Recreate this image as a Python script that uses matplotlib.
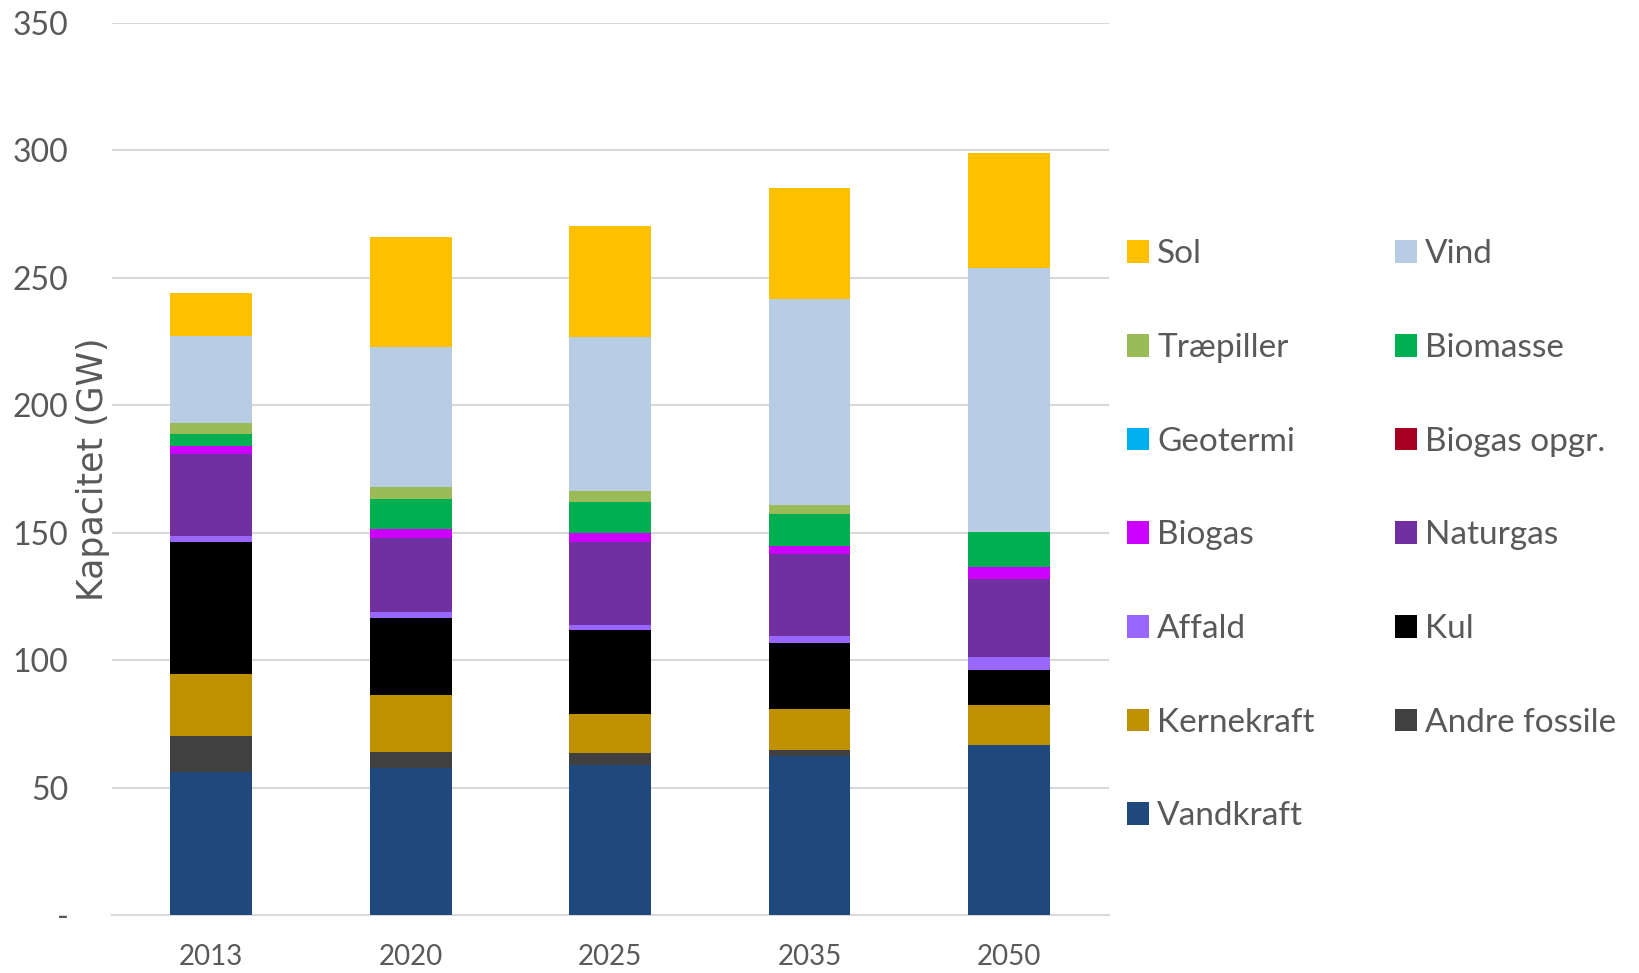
import matplotlib
matplotlib.use("Agg")
import matplotlib.pyplot as plt
from matplotlib.patches import Patch
from matplotlib.ticker import FuncFormatter
import numpy as np

# Data (GW), stacked bottom to top
years = ["2013", "2020", "2025", "2035", "2050"]
vandkraft = [56.1, 57.6, 58.9, 62.5, 66.9]
andre_fossile = [14.1, 6.3, 4.6, 2.4, 0.0]
kernekraft = [24.4, 22.3, 15.2, 15.8, 15.4]
kul = [51.7, 30.3, 33.3, 26.0, 13.9]
affald = [2.3, 2.5, 1.8, 2.8, 5.2]
naturgas = [32.2, 29.0, 32.7, 32.3, 30.3]
biogas = [3.3, 3.4, 3.2, 3.0, 4.9]
biogas_opgr = [0.0, 0.0, 0.0, 0.0, 0.0]
geotermi = [0.0, 0.0, 0.0, 0.0, 0.0]
biomasse = [4.8, 11.9, 12.3, 12.7, 13.6]
traepiller = [4.1, 4.7, 4.3, 3.3, 0.0]
vind = [34.2, 54.8, 60.5, 80.7, 103.6]
sol = [16.7, 43.3, 43.5, 43.9, 45.3]

series = [
    ("Vandkraft", vandkraft, "#1F497D"),
    ("Andre fossile", andre_fossile, "#404040"),
    ("Kernekraft", kernekraft, "#BF9000"),
    ("Kul", kul, "#000000"),
    ("Affald", affald, "#9966FF"),
    ("Naturgas", naturgas, "#7030A0"),
    ("Biogas", biogas, "#CC00FF"),
    ("Biogas opgr.", biogas_opgr, "#A50021"),
    ("Geotermi", geotermi, "#00B0F0"),
    ("Biomasse", biomasse, "#00B050"),
    ("Træpiller", traepiller, "#9BBB59"),
    ("Vind", vind, "#B8CCE4"),
    ("Sol", sol, "#FFC000"),
]

text_color = "#595959"
grid_color = "#D9D9D9"

fig = plt.figure(figsize=(16.4, 9.73), dpi=100)
ax = fig.add_axes([0.068, 0.0596, 0.608, 0.9168])

x = np.arange(len(years))
bottom = np.zeros(len(years))
for name, vals, color in series:
    vals = np.array(vals)
    ax.bar(x, vals, width=0.41, bottom=bottom, color=color, label=name, zorder=3)
    bottom += vals

ax.set_xlim(-0.5, len(years) - 0.5)
ax.set_ylim(0, 350)
ax.set_yticks(np.arange(0, 351, 50))
ax.yaxis.set_major_formatter(FuncFormatter(lambda v, p: "-" if v == 0 else f"{int(v)}"))
ax.set_xticks(x)
ax.set_xticklabels(years)

ax.grid(axis="y", color=grid_color, linewidth=1.5, zorder=0)
for side in ["top", "right", "left"]:
    ax.spines[side].set_visible(False)
ax.spines["bottom"].set_color(grid_color)
ax.spines["bottom"].set_linewidth(1.5)

ax.tick_params(axis="y", length=0, pad=31, labelsize=23, labelcolor=text_color)
ax.tick_params(axis="x", length=0, pad=21, labelsize=20, labelcolor=text_color)
for lbl in ax.get_xticklabels() + ax.get_yticklabels():
    lbl.set_family("Lato")

ax.set_ylabel("Kapacitet (GW)", fontsize=25, color=text_color,
              family=["Liberation Sans Narrow", "DejaVu Sans"], labelpad=0)
ax.yaxis.set_label_coords(-0.002, 0.5)

# legend: reversed stack order, read row by row over two columns
order = list(reversed(series))
handles = [Patch(facecolor=c, label=n) for n, _, c in order]
col1 = handles[0::2]
col2 = handles[1::2]
leg_handles = col1 + col2
fig.legend(handles=leg_handles, labels=[h.get_label() for h in leg_handles],
           ncol=2, loc="upper left", bbox_to_anchor=(0.687, 0.754),
           frameon=False, borderpad=0, borderaxespad=0,
           prop={"family": "Lato", "size": 24}, labelcolor=text_color,
           handlelength=0.66, handleheight=0.66, handletextpad=0.25,
           labelspacing=1.91, columnspacing=2.4)

fig.savefig("out.png", dpi=100)
